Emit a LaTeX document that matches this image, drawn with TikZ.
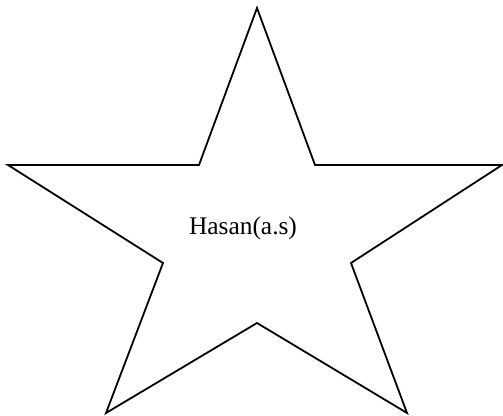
\documentclass[tikz,border=0pt]{standalone}
\usepackage{fontspec}
\setmainfont{Liberation Serif}
\usepackage{tikz}

\begin{document}
\begin{tikzpicture}[x=0.5pt, y=-0.5pt,
  starline/.style={draw=black, line width=0.9pt, line join=miter},
  label_/.style={font=\fontsize{12.7}{15}\selectfont, inner sep=0pt, anchor=base}
]
\useasboundingbox (0,0) rectangle (503,416);
% outer tips and inner corners
\coordinate (top) at (257,8);
\coordinate (innerTR) at (315,165);
\coordinate (right) at (502,165);
\coordinate (innerR) at (351,263);
\coordinate (bottomR) at (407,413);
\coordinate (innerB) at (257,323);
\coordinate (bottomL) at (106,413);
\coordinate (innerL) at (163,263);
\coordinate (left) at (8,165);
\coordinate (innerTL) at (199,165);

\draw[starline] (top) -- (innerTR) -- (right) -- (innerR) -- (bottomR) -- (innerB)
  -- (bottomL) -- (innerL) -- (left) -- (innerTL) -- cycle;

\node[label_] (name) at (243,235) {Hasan(a.s)};
\end{tikzpicture}
\end{document}
